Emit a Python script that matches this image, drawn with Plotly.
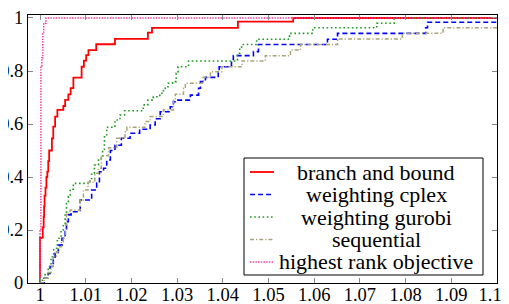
import plotly.graph_objects as go

# ---------------- data ----------------
names = ["branch and bound", "weighting cplex", "weighting gurobi",
         "sequential", "highest rank objective"]

bb_x = [1.0, 1.0, 1.0006, 1.0008, 1.0009, 1.0010, 1.0012, 1.0014, 1.0016, 1.0018, 1.0020,
        1.0026, 1.0029, 1.0033, 1.0038, 1.0051, 1.0055, 1.0062, 1.0067, 1.0073,
        1.0091, 1.0096, 1.0101, 1.0106, 1.0123, 1.0164, 1.0236, 1.0245, 1.0433, 1.0554, 1.1]
bb_y = [0, 0.17, 0.21, 0.25, 0.29, 0.33, 0.36, 0.40, 0.42, 0.46, 0.50,
        0.546, 0.59, 0.628, 0.653, 0.668, 0.691, 0.712, 0.735, 0.775,
        0.816, 0.839, 0.860, 0.879, 0.901, 0.921, 0.945, 0.963, 0.986, 1.0, 1.0]

cplex_x = [1.0, 1.0009, 1.0018, 1.0022, 1.0029, 1.0033, 1.0040, 1.0048, 1.0055, 1.0058,
           1.0062, 1.0068, 1.0088, 1.0113, 1.0124, 1.0130, 1.0139, 1.0146, 1.0154, 1.0164,
           1.0178, 1.0197, 1.0218, 1.0241, 1.0252, 1.0263, 1.0285, 1.0292, 1.0296, 1.0329,
           1.0347, 1.0351, 1.0362, 1.0390, 1.0392, 1.0419, 1.0423, 1.0467, 1.0478, 1.0629,
           1.0651, 1.0844, 1.0848, 1.1]
cplex_y = [0, 0.018, 0.036, 0.062, 0.093, 0.112, 0.143, 0.169, 0.194, 0.231,
           0.257, 0.269, 0.313, 0.351, 0.377, 0.42, 0.433, 0.464, 0.50, 0.52,
           0.546, 0.565, 0.58, 0.596, 0.62, 0.646, 0.665, 0.684, 0.69, 0.709,
           0.735, 0.76, 0.776, 0.797, 0.816, 0.838, 0.858, 0.873, 0.90, 0.92,
           0.942, 0.963, 0.984, 0.984]

gurobi_x = [1.0, 1.0005, 1.0011, 1.0018, 1.0024, 1.0030, 1.0038, 1.0046, 1.0051, 1.0055,
            1.0058, 1.0062, 1.0066, 1.0073, 1.0105, 1.0113, 1.0119, 1.0128, 1.0137, 1.0141,
            1.0146, 1.0164, 1.0175, 1.0185, 1.0226, 1.0236, 1.0248, 1.0262, 1.0270, 1.0280,
            1.0290, 1.0298, 1.0302, 1.0325, 1.0432, 1.0437, 1.0441, 1.0474, 1.0546, 1.0597,
            1.0737, 1.0775, 1.1]
gurobi_y = [0, 0.018, 0.036, 0.062, 0.099, 0.131, 0.169, 0.20, 0.225, 0.263,
            0.30, 0.326, 0.354, 0.376, 0.385, 0.414, 0.445, 0.47, 0.50, 0.552,
            0.588, 0.615, 0.634, 0.650, 0.672, 0.69, 0.703, 0.716, 0.735, 0.754,
            0.76, 0.791, 0.816, 0.838, 0.867, 0.89, 0.90, 0.92, 0.942, 0.963,
            0.98, 1.0, 1.0]

seq_x = [1.0, 1.0009, 1.0018, 1.0024, 1.0029, 1.0036, 1.0040, 1.0047, 1.0051, 1.0056,
         1.0058, 1.0066, 1.0088, 1.0095, 1.0105, 1.0120, 1.0128, 1.0134, 1.0150, 1.0168,
         1.0186, 1.0190, 1.0230, 1.0241, 1.0270, 1.0292, 1.0296, 1.0314, 1.0318, 1.0357,
         1.0373, 1.0398, 1.0442, 1.0493, 1.0548, 1.0570, 1.0651, 1.0793, 1.0882, 1.1]
seq_y = [0, 0.018, 0.040, 0.062, 0.099, 0.118, 0.137, 0.156, 0.175, 0.219,
         0.263, 0.275, 0.313, 0.351, 0.38, 0.414, 0.433, 0.48, 0.51, 0.546,
         0.57, 0.588, 0.609, 0.628, 0.653, 0.69, 0.712, 0.735, 0.754, 0.776,
         0.797, 0.816, 0.838, 0.858, 0.879, 0.90, 0.921, 0.942, 0.963, 0.963]

hro_x = [1.0, 1.0, 1.0002, 1.0004, 1.0006, 1.0008, 1.0013, 1.1]
hro_y = [0, 0.2, 0.82, 0.85, 0.94, 0.98, 1.0, 1.0]

x_ticks = [1.0, 1.01, 1.02, 1.03, 1.04, 1.05, 1.06, 1.07, 1.08, 1.09, 1.1]
# the last label is nudged left (trailing no-break spaces) so the page edge does not clip it
x_tick_labels = ["1", "1.01", "1.02", "1.03", "1.04", "1.05", "1.06", "1.07", "1.08", "1.09",
                 "1.1\u00a0\u00a0\u00a0"]
y_ticks = [0, 0.2, 0.4, 0.6, 0.8, 1.0]
y_tick_labels = ["0", "0.2", "0.4", "0.6", "0.8", "1"]

# ---------------- styles ----------------
colors = ["#ff0000", "#0000ff", "#1f9a1f", "#a8a47a", "#f0389b"]
dashes = ["solid", "5px,3px", "1.6px,2.6px", "4px,2px,1.2px,2px", "1.4px,1.3px"]
widths = [1.8, 1.6, 1.6, 1.5, 1.5]

FONT = "Liberation Serif, DejaVu Serif, serif"
# page body has an 8px margin, so the figure is offset by (8, 8) in the window
OFF = 8
W, H = 509 - OFF, 304 - OFF
PL, PR, PT, PB = 28, 497, 15, 283          # plot area in window pixels
ML, MR, MT, MB = PL - OFF, W + OFF - PR, PT - OFF, H + OFF - PB
PW, PH = PR - PL, PB - PT

def pxx(px):
    return (px - PL) / PW

def pxy(py):
    return (PB - py) / PH

series = [(bb_x, bb_y), (cplex_x, cplex_y), (gurobi_x, gurobi_y), (seq_x, seq_y), (hro_x, hro_y)]

fig = go.Figure()
for (xs, ys), n, c, d, w in zip(series, names, colors, dashes, widths):
    fig.add_trace(go.Scatter(x=xs, y=ys, mode="lines", name=n, showlegend=False,
                             line=dict(color=c, dash=d, width=w, shape="hv")))

axis_common = dict(showgrid=False, zeroline=False, showline=True, linecolor="black",
                   linewidth=1, mirror="allticks", ticks="inside", ticklen=5,
                   tickcolor="#888888", tickwidth=1, automargin=False,
                   ticklabeloverflow="allow",
                   tickfont=dict(family=FONT, size=18.5, color="black"))

fig.update_layout(
    width=W, height=H,
    margin=dict(l=ML, r=MR, t=MT, b=MB, pad=0),
    paper_bgcolor="white", plot_bgcolor="white",
    xaxis=dict(range=[0.99737, 1.1], tickvals=x_ticks, ticktext=x_tick_labels,
               ticklabelstandoff=-5, **axis_common),
    yaxis=dict(range=[0, 1.0113], tickvals=y_ticks, ticktext=y_tick_labels, **axis_common),
)

# ---------------- legend box (centered entries as in the reference) ----------------
box_l, box_r, box_t, box_b = 244, 483, 158, 275
fig.add_shape(type="rect", xref="paper", yref="paper",
              x0=pxx(box_l), x1=pxx(box_r), y0=pxy(box_b), y1=pxy(box_t),
              line=dict(color="black", width=1), fillcolor="white", layer="above")
row0, row_gap = 172, 22.5
for i, (n, c, d, w) in enumerate(zip(names, colors, dashes, widths)):
    yc = row0 + i * row_gap
    fig.add_shape(type="line", xref="paper", yref="paper",
                  x0=pxx(250), x1=pxx(274), y0=pxy(yc), y1=pxy(yc),
                  line=dict(color=c, dash=d, width=w), layer="above")
    fig.add_annotation(xref="paper", yref="paper", x=pxx(376), y=pxy(yc),
                       text=n, showarrow=False, xanchor="center", yanchor="middle",
                       font=dict(family=FONT, size=22, color="black"))

fig.write_html("out.html")
